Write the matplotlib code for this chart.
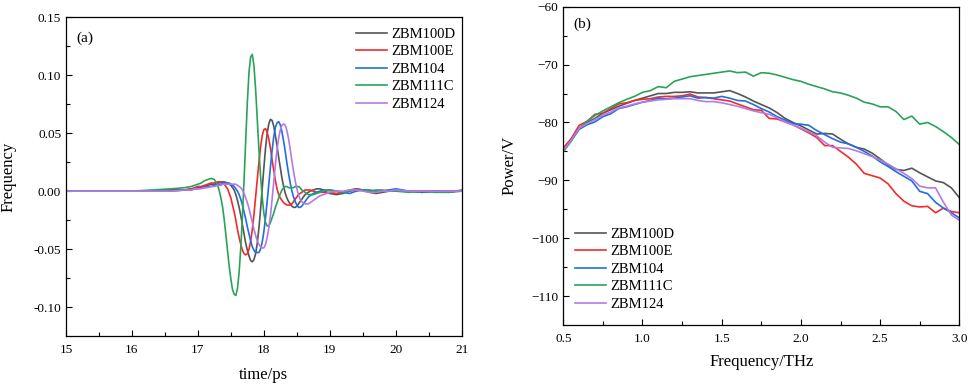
import numpy as np
import matplotlib
matplotlib.use('Agg')
import matplotlib.pyplot as plt

plt.rcParams['font.family'] = ['Liberation Serif', 'DejaVu Serif']

## sample names and colours
samples = ['ZBM100D', 'ZBM100E', 'ZBM104', 'ZBM111C', 'ZBM124']
colors = ['#555555', '#f42a2a', '#1f6fe0', '#2aa35a', '#b47ae8']

## (a) time-domain signal
time_ps = [15.0, 15.5, 16.0, 16.3, 16.6, 16.8, 16.9, 16.95, 17.0, 17.05, 17.1, 17.15, 17.2, 17.25,
           17.3, 17.325, 17.35, 17.375, 17.4, 17.425, 17.45, 17.475, 17.5, 17.525,
           17.55, 17.575, 17.6, 17.625, 17.65, 17.675, 17.7, 17.725, 17.75, 17.775,
           17.8, 17.825, 17.85, 17.875, 17.9, 17.925, 17.95, 17.975, 18.0, 18.025,
           18.05, 18.075, 18.1, 18.125, 18.15, 18.175, 18.2, 18.225, 18.25, 18.275,
           18.3, 18.325, 18.35, 18.375, 18.4, 18.425, 18.45, 18.475, 18.5, 18.525,
           18.55, 18.575, 18.6, 18.625, 18.65, 18.675, 18.7,
           18.75, 18.8, 18.85, 18.9, 18.95, 19.0, 19.1, 19.2, 19.3, 19.4, 19.5,
           19.6, 19.7, 19.8, 19.9, 20.0, 20.2, 20.4, 20.6, 20.8, 21.0]

sig_100d = [0, 0, 0, 0, 0.001, 0.001, 0.002, 0.002, 0.003, 0.003, 0.004, 0.005, 0.006, 0.006,
            0.007, 0.0075, 0.008, 0.008, 0.008, 0.0075, 0.007, 0.006, 0.005, 0.003,
            0.001, -0.003, -0.008, -0.014, -0.021, -0.029, -0.037, -0.045, -0.051, -0.056,
            -0.060, -0.061, -0.059, -0.054, -0.045, -0.032, -0.016, 0.002, 0.020, 0.037,
            0.050, 0.058, 0.062, 0.061, 0.056, 0.048, 0.039, 0.029, 0.020, 0.011,
            0.004, -0.002, -0.006, -0.009, -0.011, -0.013, -0.014, -0.014, -0.013, -0.011,
            -0.009, -0.007, -0.005, -0.003, -0.002, -0.001, 0.000,
            0.001, 0.002, 0.002, 0.001, -0.001, -0.002, -0.003, -0.002, 0.000, 0.002, 0.001,
            -0.001, -0.002, -0.001, 0.000, 0.001, 0.000, -0.001, 0.000, -0.001, 0.000]

sig_100e = [0, 0, 0, 0, 0.001, 0.001, 0.002, 0.003, 0.004, 0.004, 0.005, 0.006, 0.007, 0.007,
            0.008, 0.008, 0.008, 0.007, 0.006, 0.004, 0.002, -0.002, -0.006, -0.012,
            -0.018, -0.025, -0.033, -0.040, -0.046, -0.051, -0.054, -0.055, -0.054, -0.050,
            -0.043, -0.033, -0.020, -0.005, 0.010, 0.025, 0.038, 0.048, 0.053, 0.054,
            0.051, 0.045, 0.037, 0.027, 0.018, 0.009, 0.002, -0.003, -0.006, -0.008,
            -0.010, -0.011, -0.012, -0.012, -0.012, -0.011, -0.009, -0.007, -0.005, -0.003,
            -0.002, -0.001, 0.000, 0.001, 0.001, 0.001, 0.001,
            0.000, -0.001, -0.001, -0.001, -0.001, -0.001, -0.002, -0.001, 0.001, 0.002, 0.001,
            0.000, -0.001, 0.000, 0.001, 0.000, 0.000, 0.000, 0.000, 0.000, 0.000]

sig_104 = [0, 0, 0, 0, 0, 0.001, 0.001, 0.002, 0.002, 0.003, 0.003, 0.004, 0.004, 0.005,
           0.006, 0.006, 0.006, 0.007, 0.007, 0.007, 0.007, 0.007, 0.006, 0.005,
           0.004, 0.002, 0.000, -0.003, -0.007, -0.012, -0.018, -0.024, -0.031, -0.037,
           -0.043, -0.048, -0.051, -0.053, -0.053, -0.053, -0.050, -0.044, -0.035, -0.023,
           -0.009, 0.006, 0.021, 0.035, 0.047, 0.055, 0.059, 0.060, 0.057, 0.051,
           0.043, 0.034, 0.024, 0.015, 0.007, 0.000, -0.005, -0.009, -0.012, -0.014,
           -0.014, -0.013, -0.011, -0.009, -0.007, -0.005, -0.004,
           -0.002, -0.001, 0.000, 0.001, 0.001, 0.001, 0.000, -0.001, -0.002, 0.000, 0.001,
           0.001, 0.000, 0.000, 0.001, 0.002, 0.000, -0.001, 0.000, 0.000, 0.000]

sig_111c = [0, 0, 0, 0.001, 0.002, 0.003, 0.004, 0.005, 0.006, 0.007, 0.009, 0.010, 0.011, 0.010,
            0.005, 0.000, -0.006, -0.014, -0.025, -0.038, -0.052, -0.065, -0.076, -0.085,
            -0.089, -0.090, -0.084, -0.070, -0.049, -0.022, 0.010, 0.044, 0.077, 0.103,
            0.116, 0.118, 0.108, 0.088, 0.062, 0.036, 0.013, -0.005, -0.019, -0.027,
            -0.030, -0.030, -0.027, -0.023, -0.019, -0.014, -0.010, -0.006, -0.002, 0.001,
            0.003, 0.004, 0.004, 0.003, 0.003, 0.003, 0.003, 0.004, 0.004, 0.004,
            0.003, 0.001, 0.000, -0.001, -0.002, -0.003, -0.003,
            -0.003, -0.002, -0.001, 0.000, 0.001, 0.001, 0.000, -0.001, 0.000, 0.001, 0.001,
            0.000, 0.001, 0.001, 0.000, 0.000, -0.001, 0.000, -0.001, -0.001, 0.001]

sig_124 = [0, 0, 0, 0, 0, 0.001, 0.001, 0.002, 0.002, 0.002, 0.003, 0.003, 0.004, 0.004,
           0.005, 0.005, 0.005, 0.006, 0.006, 0.006, 0.006, 0.006, 0.006, 0.006,
           0.006, 0.006, 0.005, 0.004, 0.003, 0.001, -0.002, -0.006, -0.010, -0.015,
           -0.021, -0.027, -0.033, -0.038, -0.043, -0.046, -0.048, -0.049, -0.049, -0.046,
           -0.040, -0.032, -0.021, -0.007, 0.008, 0.023, 0.036, 0.046, 0.053, 0.057,
           0.058, 0.057, 0.052, 0.045, 0.036, 0.026, 0.017, 0.009, 0.002, -0.003,
           -0.007, -0.009, -0.010, -0.011, -0.011, -0.011, -0.010,
           -0.008, -0.006, -0.004, -0.003, -0.002, -0.001, 0.000, 0.000, 0.001, 0.001, 0.000,
           -0.001, -0.001, 0.000, 0.000, 0.001, 0.000, 0.000, 0.000, 0.000, 0.000]

## (b) power spectrum
freq_thz = [0.50, 0.55, 0.60, 0.65, 0.70, 0.75, 0.80, 0.85, 0.90, 0.95,
            1.00, 1.05, 1.10, 1.15, 1.20, 1.25, 1.30, 1.35, 1.40, 1.45,
            1.50, 1.55, 1.60, 1.65, 1.70, 1.75, 1.80, 1.85, 1.90, 1.95,
            2.00, 2.05, 2.10, 2.15, 2.20, 2.25, 2.30, 2.35, 2.40, 2.45,
            2.50, 2.55, 2.60, 2.65, 2.70, 2.75, 2.80, 2.85, 2.90, 2.95, 3.00]

pow_100d = [-84.6, -83.0, -81.0, -80.0, -79.3, -78.4, -77.8, -77.2, -76.7, -76.2,
            -75.8, -75.4, -75.0, -75.0, -74.8, -74.8, -74.7, -74.9, -74.9, -74.9,
            -74.7, -74.5, -75.0, -75.6, -76.3, -76.9, -77.5, -78.3, -79.3, -80.0,
            -80.6, -81.3, -82.0, -81.9, -82.0, -82.9, -83.7, -84.3, -84.6, -85.3,
            -86.3, -87.3, -88.1, -88.3, -87.9, -88.7, -89.4, -90.1, -90.4, -91.3, -93.0]

pow_100e = [-84.4, -82.8, -80.5, -79.8, -78.6, -78.4, -77.6, -76.8, -76.6, -76.2,
            -76.0, -75.9, -75.6, -75.5, -75.5, -75.4, -75.1, -75.6, -75.7, -75.9,
            -76.1, -76.3, -76.8, -77.3, -77.8, -77.9, -79.3, -79.4, -79.9, -80.4,
            -81.1, -81.8, -82.6, -84.0, -84.0, -85.0, -86.0, -87.2, -88.8, -89.2,
            -89.6, -90.6, -92.3, -93.6, -94.4, -94.6, -94.5, -95.6, -94.8, -95.4, -95.6]

pow_104 = [-84.8, -83.2, -81.2, -80.4, -79.9, -79.0, -78.5, -77.6, -77.3, -76.9,
           -76.5, -76.2, -75.8, -75.9, -75.8, -75.6, -75.4, -75.8, -75.7, -75.8,
           -75.5, -75.8, -76.2, -76.3, -76.9, -77.6, -78.2, -79.0, -79.6, -80.2,
           -80.3, -80.5, -81.4, -82.1, -82.8, -83.4, -83.7, -84.3, -85.0, -85.8,
           -86.8, -87.6, -88.5, -89.3, -90.1, -91.9, -92.3, -93.8, -94.8, -95.6, -96.5]

pow_111c = [-85.1, -83.2, -81.0, -79.8, -78.8, -78.0, -77.3, -76.6, -76.0, -75.5,
            -74.8, -74.5, -73.8, -74.0, -72.9, -72.5, -72.1, -71.9, -71.7, -71.5,
            -71.3, -71.1, -71.4, -71.3, -72.0, -71.4, -71.5, -71.8, -72.2, -72.6,
            -72.9, -73.4, -73.8, -74.2, -74.7, -74.9, -75.3, -75.8, -76.5, -76.8,
            -77.3, -77.3, -78.1, -79.5, -78.9, -80.3, -80.0, -80.7, -81.6, -82.6, -83.8]

pow_124 = [-84.8, -83.1, -81.0, -80.2, -79.5, -78.7, -78.2, -77.5, -77.2, -76.8,
           -76.5, -76.3, -76.1, -76.0, -75.9, -75.9, -75.9, -76.2, -76.4, -76.4,
           -76.6, -76.9, -77.2, -77.6, -78.0, -78.3, -78.6, -79.2, -79.9, -80.4,
           -81.0, -81.6, -82.3, -83.4, -84.3, -84.4, -84.5, -84.9, -85.4, -85.9,
           -86.5, -87.2, -88.0, -88.8, -89.7, -91.0, -91.3, -91.3, -93.8, -96.0, -96.9]

time_series = [sig_100d, sig_100e, sig_104, sig_111c, sig_124]
power_series = [pow_100d, pow_100e, pow_104, pow_111c, pow_124]


def style_axes(ax):
    ax.tick_params(which='both', direction='in', top=False, right=False, labelsize=9.5)
    ax.tick_params(which='major', length=4.5, width=0.8)
    ax.tick_params(which='minor', length=2.8, width=0.8)
    ax.tick_params(axis='x', which='both', pad=5.5)
    for sp in ax.spines.values():
        sp.set_linewidth(0.9)


fig = plt.figure(figsize=(9.69, 3.85), dpi=100)

## panel (a)
ax1 = fig.add_axes([0.0681, 0.1273, 0.4084, 0.8277])
for vals, name, c in zip(time_series, samples, colors):
    ax1.plot(time_ps, vals, color=c, linewidth=1.2, label=name, solid_joinstyle='round')
ax1.set_xlim(15, 21)
ax1.set_ylim(-0.125, 0.15)
ax1.set_xticks(np.arange(15, 21.1, 1))
ax1.set_xticks(np.arange(15.5, 21, 1), minor=True)
ax1.set_yticks([-0.10, -0.05, 0.00, 0.05, 0.10, 0.15])
ax1.set_yticks([-0.075, -0.025, 0.025, 0.075, 0.125], minor=True)
ax1.set_yticklabels(['-0.10', '-0.05', '0.00', '0.05', '0.10', '0.15'])
ax1.set_xticklabels([str(v) for v in range(15, 22)])
style_axes(ax1)
ax1.set_xlabel('time/ps', fontsize=12, labelpad=8)
ax1.set_ylabel('Frequency', fontsize=12, labelpad=12)
ax1.text(0.025, 0.955, '(a)', transform=ax1.transAxes, fontsize=11, va='top', ha='left')
ax1.legend(loc='upper right', bbox_to_anchor=(1.01, 1.0), frameon=False, fontsize=10.5,
           handlelength=2.1, handletextpad=0.3, labelspacing=0.3, borderaxespad=0.3)

## panel (b)
ax2 = fig.add_axes([0.5813, 0.1558, 0.4087, 0.8268])
for vals, name, c in zip(power_series, samples, colors):
    ax2.plot(freq_thz, vals, color=c, linewidth=1.2, label=name, solid_joinstyle='round')
ax2.set_xlim(0.5, 3.0)
ax2.set_ylim(-115, -60)
ax2.set_xticks([0.5, 1.0, 1.5, 2.0, 2.5, 3.0])
ax2.set_xticks([0.75, 1.25, 1.75, 2.25, 2.75], minor=True)
ax2.set_yticks([-110, -100, -90, -80, -70, -60])
ax2.set_yticks([-105, -95, -85, -75, -65], minor=True)
style_axes(ax2)
ax2.set_xlabel('Frequency/THz', fontsize=12, labelpad=7)
ax2.set_ylabel('Power/V', fontsize=12, labelpad=10)
ax2.text(0.025, 0.965, '(b)', transform=ax2.transAxes, fontsize=11, va='top', ha='left')
ax2.legend(loc='lower left', bbox_to_anchor=(0.005, 0.012), frameon=False, fontsize=10.5,
           handlelength=2.1, handletextpad=0.3, labelspacing=0.3, borderaxespad=0.3)

fig.savefig('out.png', dpi=100)
